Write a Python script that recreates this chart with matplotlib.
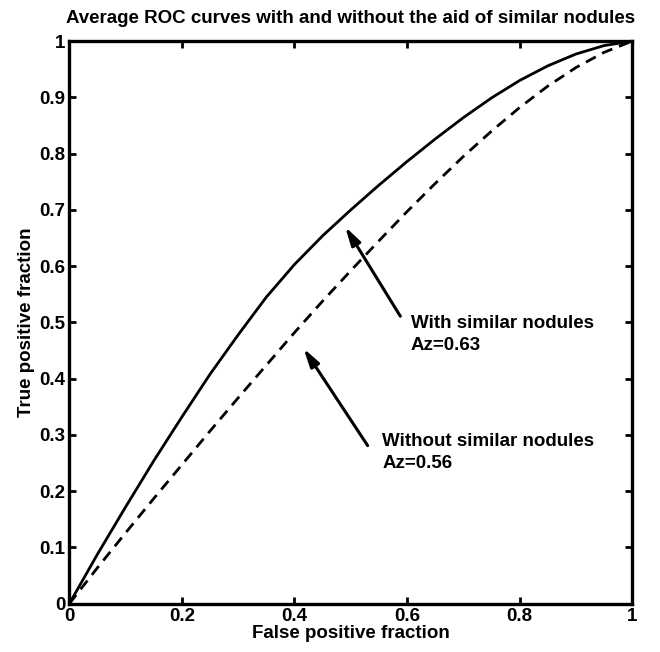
import matplotlib.pyplot as plt

plt.rcParams['font.family'] = ['Liberation Sans', 'DejaVu Sans']
plt.rcParams['font.weight'] = 'bold'

fpr = [0.0, 0.05, 0.1, 0.15, 0.2, 0.25, 0.3, 0.35, 0.4, 0.45, 0.5,
       0.55, 0.6, 0.65, 0.7, 0.75, 0.8, 0.85, 0.9, 0.95, 1.0]

# ROC curve with similar nodules (Az=0.63)
tpr_with = [0.0, 0.088, 0.172, 0.254, 0.332, 0.408, 0.478, 0.545, 0.603, 0.654, 0.700,
            0.744, 0.786, 0.826, 0.864, 0.899, 0.930, 0.956, 0.977, 0.992, 1.0]

# ROC curve without similar nodules (Az=0.56)
tpr_without = [0.0, 0.064, 0.126, 0.187, 0.247, 0.307, 0.366, 0.424, 0.482, 0.538, 0.592,
               0.645, 0.697, 0.747, 0.795, 0.840, 0.882, 0.920, 0.953, 0.980, 1.0]

xticks = [0, 0.2, 0.4, 0.6, 0.8, 1]
xticklabels = ['0', '0.2', '0.4', '0.6', '0.8', '1']
yticks = [0, 0.1, 0.2, 0.3, 0.4, 0.5, 0.6, 0.7, 0.8, 0.9, 1]
yticklabels = ['0', '0.1', '0.2', '0.3', '0.4', '0.5', '0.6', '0.7', '0.8', '0.9', '1']

fs = 13.5

fig = plt.figure(figsize=(6.6, 6.52), dpi=100)
ax = fig.add_axes([0.105, 0.074, 0.853, 0.863])

ax.plot(fpr, tpr_with, color='black', lw=2.0, solid_joinstyle='round')
ax.plot(fpr, tpr_without, color='black', lw=2.0, linestyle=(0, (4, 2.6)))

ax.set_xlim(0, 1)
ax.set_ylim(0, 1)
ax.set_xticks(xticks)
ax.set_xticklabels(xticklabels)
ax.set_yticks(yticks)
ax.set_yticklabels(yticklabels)
ax.tick_params(direction='in', length=5, width=2, top=True, right=True,
               labelsize=fs, pad=3)
for lab in ax.get_xticklabels() + ax.get_yticklabels():
    lab.set_fontweight('bold')
for sp in ax.spines.values():
    sp.set_linewidth(2.4)

ax.set_xlabel('False positive fraction', fontsize=fs, fontweight='bold', labelpad=0)
ax.set_ylabel('True positive fraction', fontsize=fs, fontweight='bold', labelpad=3)
ax.set_title('Average ROC curves with and without the aid of similar nodules',
             fontsize=fs, fontweight='bold', pad=13)

arrow = dict(arrowstyle='-|>,head_length=1.1,head_width=0.3', color='black', lw=2.2,
             shrinkA=0, shrinkB=0)
ax.annotate('', xy=(0.490, 0.670), xytext=(0.588, 0.511), arrowprops=arrow)
ax.annotate('', xy=(0.416, 0.454), xytext=(0.530, 0.281), arrowprops=arrow)

ax.text(0.607, 0.513, 'With similar nodules\nAz=0.63', fontsize=fs, fontweight='bold',
        va='top', ha='left', linespacing=1.4)
ax.text(0.556, 0.303, 'Without similar nodules\nAz=0.56', fontsize=fs, fontweight='bold',
        va='top', ha='left', linespacing=1.4)

fig.savefig('out.png', dpi=100)
